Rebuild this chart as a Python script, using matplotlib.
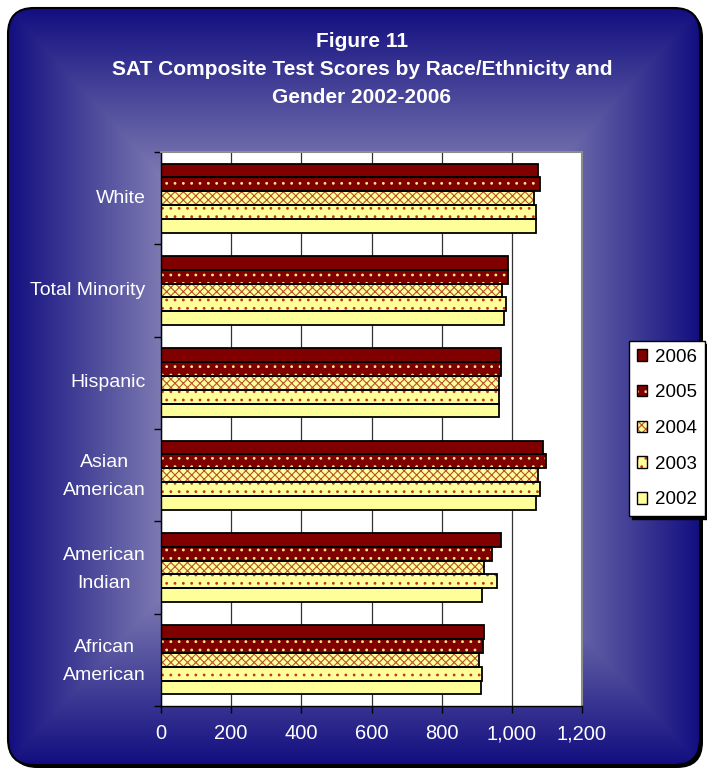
import numpy as np
import matplotlib
matplotlib.use("Agg")
import matplotlib.pyplot as plt
from matplotlib.patches import FancyBboxPatch, Patch
from matplotlib.legend_handler import HandlerTuple
from matplotlib.transforms import ScaledTranslation

plt.rcParams['font.family'] = ['Liberation Sans', 'DejaVu Sans']
plt.rcParams['hatch.linewidth'] = 0.8

# SAT composite scores (top group first)
categories = ['White', 'Total Minority', 'Hispanic',
              'Asian\nAmerican', 'American\nIndian', 'African\nAmerican']
years = ['2006', '2005', '2004', '2003', '2002']
scores_2006 = [1074, 990, 968, 1089, 969, 921]
scores_2005 = [1079, 990, 968, 1096, 943, 917]
scores_2004 = [1063, 973, 963, 1074, 920, 905]
scores_2003 = [1068, 984, 963, 1079, 958, 916]
scores_2002 = [1068, 978, 964, 1068, 916, 911]
xticks = [0, 200, 400, 600, 800, 1000, 1200]

series = [scores_2006, scores_2005, scores_2004, scores_2003, scores_2002]

# face colour, hatch, hatch colour
styles = [
    ('#800000', None, None),
    ('#800000', '..', '#ffe98a'),
    ('#ffff99', 'xxxx', '#b8502e'),
    ('#ffff99', '..', '#c0341e'),
    ('#ffff99', None, None),
]

W, H = 707, 772
fig = plt.figure(figsize=(W / 100, H / 100), dpi=100)

# background: rounded panel with a rectangular "from centre" gradient
bg = fig.add_axes([0, 0, 1, 1])
bg.set_axis_off()
yy, xx = np.mgrid[0:H, 0:W] + 0.5
u = np.abs(xx - 354) / 346
v = np.abs(yy - 386) / 378
d = np.maximum(u, v)
t = np.clip((d - 0.5) / 0.5, 0, 1)
light = np.array([138, 136, 184]) / 255
dark = np.array([18, 14, 128]) / 255
grad = light[None, None, :] * (1 - t[..., None]) + dark[None, None, :] * t[..., None]

shadow = FancyBboxPatch((11, 11), 692, 757, boxstyle='round,pad=0,rounding_size=26',
                        fc='black', ec='none', zorder=0)
bg.add_patch(shadow)
panel = FancyBboxPatch((8, 8), 692, 757, boxstyle='round,pad=0,rounding_size=26',
                       fc='none', ec='black', lw=1.5, zorder=3)
bg.add_patch(panel)
img = bg.imshow(grad, extent=(0, W, H, 0), aspect='auto', zorder=1)
img.set_clip_path(panel)
bg.set_xlim(0, W)
bg.set_ylim(H, 0)

fig.text(362 / W, 1 - 32 / H,
         'Figure 11\nSAT Composite Test Scores by Race/Ethnicity and\nGender 2002-2006',
         ha='center', va='top', color='white', fontsize=15, fontweight='bold',
         linespacing=1.6, transform=fig.transFigure)

# plot area
ax = fig.add_axes([161 / W, 1 - 706 / H, 421 / W, 554 / H])
ax.set_facecolor('white')

pos = np.arange(len(categories))[::-1]
bar_h = 0.15
handles = []
for i, (vals, (fc, hatch, hc)) in enumerate(zip(series, styles)):
    yb = pos + 0.3 - bar_h * i
    ax.barh(yb, vals, height=bar_h, color=fc, hatch=hatch,
            edgecolor=hc if hc else fc, linewidth=0, zorder=2)
    ax.barh(yb, vals, height=bar_h, fill=False, edgecolor='black',
            linewidth=1.3, zorder=3)
    h1 = Patch(facecolor=fc, hatch=hatch, edgecolor=hc if hc else fc, linewidth=0)
    h2 = Patch(fill=False, edgecolor='black', linewidth=1.0)
    handles.append((h1, h2))

ax.set_xlim(0, 1200)
ax.set_ylim(-0.5, len(categories) - 0.5)
ax.set_xticks(xticks)
ax.set_xticklabels([f'{x:,}' for x in xticks])
ax.xaxis.grid(True, color='#333333', linewidth=0.9, zorder=0)
ax.set_axisbelow(True)

ax.set_yticks(pos)
ylabels = ax.set_yticklabels(categories, multialignment='center', linespacing=1.85)
ax.set_yticks(np.arange(-0.5, len(categories)), minor=True)
ax.tick_params(axis='y', which='major', length=0, pad=11, labelsize=14, labelcolor='white')
ax.tick_params(axis='y', which='minor', length=5, width=1, color='black', direction='out')
ax.tick_params(axis='x', length=5, width=1, color='black', pad=8,
               labelsize=14.5, labelcolor='white')

# nudge the labels up a little, two-line ones a bit more
for lab in ylabels:
    up = 0.06 if '\n' in lab.get_text() else 0.02
    lab.set_transform(lab.get_transform() + ScaledTranslation(0, up, fig.dpi_scale_trans))

for side in ['top', 'right']:
    ax.spines[side].set_color('#8c8c8c')
    ax.spines[side].set_linewidth(1.5)
for side in ['left', 'bottom']:
    ax.spines[side].set_color('black')
    ax.spines[side].set_linewidth(1.0)

leg = fig.legend(handles, years, handler_map={tuple: HandlerTuple(ndivide=1, pad=0)},
                 loc='upper left', bbox_to_anchor=(629 / W, 1 - 341 / H),
                 frameon=True, fancybox=False, edgecolor='black', framealpha=1,
                 fontsize=13.5, handlelength=0.55, handleheight=0.55,
                 handletextpad=0.45, labelspacing=1.0, borderpad=0.4,
                 borderaxespad=0, shadow={'color': 'black', 'alpha': 1})
leg.get_frame().set_linewidth(1.0)

fig.savefig('out.png', dpi=100)
